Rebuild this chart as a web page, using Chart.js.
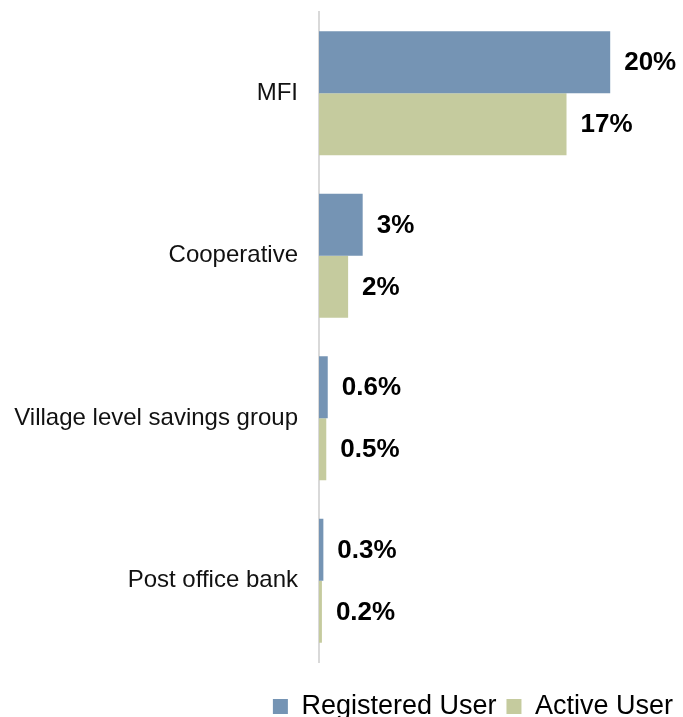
<!DOCTYPE html>
<html>
<head>
<meta charset="utf-8">
<script src="https://cdn.jsdelivr.net/npm/chart.js@4/dist/chart.umd.min.js"></script>
<style>
  html, body { margin: 0; padding: 0; background: #fff; overflow: hidden; }
  #wrap { width: 683px; height: 730px; position: relative; }
</style>
</head>
<body>
<div id="wrap"><canvas id="usageChart"></canvas></div>
<script>
// Share of respondents using each provider type (%)
const categories = ['MFI', 'Cooperative', 'Village level savings group', 'Post office bank'];
const registeredUser = [20, 3, 0.6, 0.3];
const activeUser = [17, 2, 0.5, 0.2];
const seriesNames = ['Registered User', 'Active User'];
const seriesColors = ['#7594B4', '#C5CB9E'];

const FONT = "'Liberation Sans', Arial, Helvetica, sans-serif";

// value labels drawn just past the end of each bar
const barValueLabels = {
  id: 'barValueLabels',
  afterDatasetsDraw(chart) {
    const ctx = chart.ctx;
    ctx.save();
    ctx.font = 'bold 26px ' + FONT;
    ctx.fillStyle = '#000';
    ctx.textAlign = 'left';
    ctx.textBaseline = 'middle';
    chart.data.datasets.forEach((ds, i) => {
      const meta = chart.getDatasetMeta(i);
      meta.data.forEach((bar, j) => {
        ctx.fillText(ds.data[j] + '%', bar.x + 14, bar.y + 1);
      });
    });
    ctx.restore();
  }
};

new Chart(document.getElementById('usageChart'), {
  type: 'bar',
  data: {
    labels: categories,
    datasets: [
      { label: seriesNames[0], data: registeredUser, backgroundColor: seriesColors[0] },
      { label: seriesNames[1], data: activeUser, backgroundColor: seriesColors[1] }
    ]
  },
  options: {
    indexAxis: 'y',
    responsive: true,
    maintainAspectRatio: false,
    animation: false,
    categoryPercentage: 0.763,
    barPercentage: 1,
    layout: { padding: { top: 12, right: 0, left: 13, bottom: 0 } },
    scales: {
      x: {
        min: 0,
        max: 25,
        grid: { display: false, drawTicks: false },
        border: { display: false },
        ticks: { display: false },
        afterFit(scale) { scale.height = 21; }
      },
      y: {
        grid: { display: false, drawTicks: false },
        border: { display: true, color: '#d9d9d9', width: 2 },
        ticks: {
          color: '#111',
          padding: 21,
          font: { family: FONT, size: 24 }
        },
        afterFit(scale) {
          scale.width = 306;
          scale.paddingTop = 0;
          scale.paddingBottom = 0;
        }
      }
    },
    plugins: {
      legend: {
        position: 'bottom',
        align: 'end',
        labels: {
          boxWidth: 15,
          boxHeight: 15,
          padding: 10,
          color: '#000',
          font: { family: FONT, size: 27 }
        }
      },
      tooltip: { enabled: false }
    }
  },
  plugins: [barValueLabels]
});
</script>
</body>
</html>
